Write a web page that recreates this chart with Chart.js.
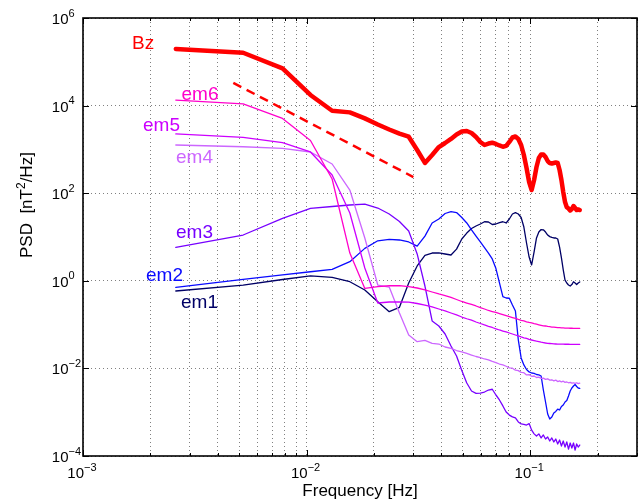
<!DOCTYPE html>
<html>
<head>
<meta charset="utf-8">
<script src="https://cdn.jsdelivr.net/npm/chart.js@4/dist/chart.umd.min.js"></script>
<style>
  html, body { margin: 0; padding: 0; background: #fff; }
  canvas { display: block; }
</style>
</head>
<body>
<canvas id="psd" width="640" height="500"></canvas>
<script>
// frequency bins [Hz]
const freqs = [
  0.0026, 0.0052, 0.0078, 0.0104, 0.0130, 0.0156, 0.0182, 0.0208, 0.0234, 0.0260,
  0.0286, 0.0312, 0.0338, 0.0364, 0.0390, 0.0416, 0.0442, 0.0468, 0.0494, 0.0520,
  0.0546, 0.0572, 0.0598, 0.0624, 0.0650, 0.0676, 0.0702, 0.0728, 0.0754, 0.0780,
  0.0806, 0.0832, 0.0858, 0.0884, 0.0910, 0.0936, 0.0962, 0.0988, 0.1014, 0.1040,
  0.1066, 0.1092, 0.1118, 0.1144, 0.1170, 0.1196, 0.1222, 0.1248, 0.1274, 0.1300,
  0.1326, 0.1352, 0.1378, 0.1404, 0.1430, 0.1456, 0.1482, 0.1508, 0.1534, 0.1560,
  0.1586, 0.1612, 0.1638, 0.1664
];

// PSD [nT^2/Hz]
const bz = [
  1.96e5, 1.61e5, 7.1e4, 1.75e4, 7650, 7000, 5100, 3700, 2850, 2300,
  1950, 970, 490, 745, 1130, 1400, 1730, 2190, 2560, 2630,
  2370, 1920, 1480, 1260, 1360, 1420, 1330, 1230, 1150, 1200,
  1480, 1870, 1970, 1730, 1260, 745, 376, 180, 118, 200,
  396, 637, 766, 766, 670, 543, 489, 476, 489, 502,
  489, 339, 200, 106, 63, 48, 44.8, 40.3, 43.5, 51,
  45.9, 41.3, 42.5, 41.3
];
const em6 = [
  1.34e4, 1.09e4, 5100, 1600, 211, 4.3, 0.67, 0.74, 0.77, 0.78,
  0.74, 0.685, 0.62, 0.555, 0.50, 0.46, 0.416, 0.374, 0.337, 0.311,
  0.288, 0.266, 0.245, 0.227, 0.21, 0.199, 0.189, 0.179, 0.17, 0.161,
  0.153, 0.145, 0.138, 0.131, 0.125, 0.121, 0.116, 0.112, 0.109, 0.105,
  0.102, 0.099, 0.0964, 0.094, 0.093, 0.091, 0.0896, 0.088, 0.0877, 0.0866,
  0.0857, 0.085, 0.0845, 0.084, 0.0835, 0.083, 0.0828, 0.0826, 0.0825, 0.0824,
  0.0823, 0.0822, 0.0822, 0.0821
];
const em5 = [
  2250, 1890, 1420, 873, 261, 35.3, 1.96, 0.311, 0.328, 0.328,
  0.325, 0.303, 0.28, 0.255, 0.227, 0.205, 0.184, 0.166, 0.149, 0.136,
  0.126, 0.1147, 0.106, 0.098, 0.0914, 0.0859, 0.0802, 0.0753, 0.0714, 0.0678,
  0.0643, 0.061, 0.0579, 0.055, 0.0522, 0.05, 0.0482, 0.0461, 0.0445, 0.0431,
  0.0418, 0.0408, 0.0396, 0.0388, 0.038, 0.0374, 0.037, 0.0366, 0.0362, 0.0361,
  0.0359, 0.0358, 0.0357, 0.0357, 0.0356, 0.0356, 0.0356, 0.0355, 0.0355, 0.0355,
  0.0355, 0.0355, 0.0355, 0.0355
];
const em4 = [
  1260, 1150, 1060, 873, 464, 118, 9.5, 0.80, 0.72, 0.184,
  0.058, 0.0407, 0.0434, 0.0374, 0.036, 0.0308, 0.0288, 0.0256, 0.0237, 0.0219,
  0.0202, 0.0187, 0.0177, 0.0164, 0.0156, 0.0144, 0.0136, 0.0126, 0.012, 0.0112,
  0.0103, 0.0101, 0.0091, 0.0089, 0.0081, 0.0080, 0.0071, 0.0072, 0.0066, 0.0067,
  0.0062, 0.0063, 0.0059, 0.0060, 0.0056, 0.0058, 0.0054, 0.0055, 0.0052, 0.0054,
  0.0050, 0.0052, 0.0049, 0.0051, 0.0048, 0.0049, 0.0047, 0.0048, 0.0046, 0.0047,
  0.00455, 0.0047, 0.0045, 0.00462
];
const em3 = [
  5.8, 11.1, 26.7, 44.8, 49.7, 53.8, 56.6, 45.9, 33.5, 22.6,
  13.7, 4.1, 0.76, 0.121, 0.093, 0.061, 0.0325, 0.0192, 0.00895, 0.00464,
  0.00305, 0.0027, 0.00274, 0.00289, 0.00321, 0.00334, 0.00247, 0.0019, 0.00139, 0.00101,
  0.00086, 0.00078, 0.00074, 0.0006, 0.00054, 0.00053, 0.00051, 0.00055, 0.00039, 0.00032,
  0.000286, 0.00032, 0.000258, 0.000302, 0.000244, 0.000272, 0.00022, 0.000258, 0.000209, 0.000244,
  0.000188, 0.000232, 0.000169, 0.00022, 0.00016, 0.000209, 0.000144, 0.000198, 0.000152, 0.000198,
  0.000137, 0.000188, 0.00016, 0.000178
];
const em2 = [
  0.71, 1.08, 1.36, 1.61, 1.83, 2.73, 5.5, 8.2, 8.8, 8.55,
  7.7, 6.2, 10.5, 20.9, 25.8, 34.4, 37.8, 36.2, 27.9, 20.9,
  14.5, 10.5, 7.7, 5.75, 4.3, 3.15, 1.9, 0.9, 0.434, 0.405,
  0.40, 0.28, 0.205, 0.0445, 0.0173, 0.012, 0.00944, 0.0083, 0.00785, 0.0077,
  0.00726, 0.0071, 0.0067, 0.00321, 0.00171, 0.00091, 0.0007, 0.00078, 0.00096, 0.00104,
  0.00118, 0.00112, 0.00135, 0.00146, 0.00171, 0.00185, 0.00234, 0.00305, 0.00357, 0.00396,
  0.00429, 0.00386, 0.00357, 0.00351
];
const em1 = [
  0.585, 0.80, 1.07, 1.29, 1.20, 0.953, 0.617, 0.333, 0.197, 0.248,
  0.89, 2.18, 3.8, 4.31, 4.35, 4.09, 3.88, 5.3, 9.0, 12.3,
  15.6, 17.8, 19.8, 22.3, 22, 19.3, 19.8, 21.4, 22.3, 20.9,
  25.8, 33.5, 35.9, 33.5, 27.9, 16.9, 7.3, 3.49, 2.3, 4.55,
  9.5, 13.0, 14.8, 14.6, 13, 11.1, 10.2, 9.8, 9.5, 9.5,
  9.0, 5.9, 3.32, 1.77, 1.04, 0.89, 0.80, 0.76, 0.82, 0.95,
  0.89, 0.82, 0.89, 0.94
];

// f^-8/3 reference slope
const refFreq = [0.0047, 0.030];
const refPsd = [3.3e4, 234];

const seriesNames = ['Bz', 'em6', 'em5', 'em4', 'em3', 'em2', 'em1'];
const seriesValues = [bz, em6, em5, em4, em3, em2, em1];
const seriesColors = ['#ff0000', '#ff00cc', '#cc00ff', '#cc66ff', '#7700ff', '#0a0aff', '#000066'];

// ticks / grid
const xGridTicks = [
  0.001, 0.002, 0.003, 0.004, 0.005, 0.006, 0.007, 0.008, 0.009,
  0.01, 0.02, 0.03, 0.04, 0.05, 0.06, 0.07, 0.08, 0.09,
  0.1, 0.2, 0.3
];
const xLabelTicks = [0.001, 0.01, 0.1];
const yTicks = [1e-4, 1e-2, 1, 1e2, 1e4, 1e6];

const FONT = "'Liberation Sans', Arial, Helvetica, sans-serif";

// where the curve names sit (pixels, left / baseline)
const namePos = {
  Bz: [132, 48.5], em6: [181.5, 99.5], em5: [143, 130.5], em4: [176, 163],
  em3: [176, 238], em2: [146, 281], em1: [181, 308]
};

function expText(v) {
  const e = Math.round(Math.log10(v));
  return e < 0 ? '\u2212' + (-e) : String(e);
}

const decor = {
  id: 'decor',
  afterDraw(chart) {
    const { ctx, chartArea: a, scales: { x, y } } = chart;
    ctx.save();

    // inner tick marks
    ctx.strokeStyle = '#000';
    ctx.lineWidth = 1;
    ctx.beginPath();
    xGridTicks.forEach(v => {
      const px = Math.round(x.getPixelForValue(v)) + 0.5;
      const len = xLabelTicks.includes(v) ? 6 : 3;
      ctx.moveTo(px, a.bottom); ctx.lineTo(px, a.bottom - len);
      ctx.moveTo(px, a.top); ctx.lineTo(px, a.top + len);
    });
    yTicks.forEach(v => {
      const py = Math.round(y.getPixelForValue(v)) + 0.5;
      ctx.moveTo(a.left, py); ctx.lineTo(a.left + 6, py);
      ctx.moveTo(a.right, py); ctx.lineTo(a.right - 6, py);
    });
    ctx.stroke();

    // box
    ctx.lineWidth = 1.6;
    ctx.strokeRect(a.left, a.top, a.right - a.left, a.bottom - a.top);

    // tick labels 10^n
    ctx.fillStyle = '#000';
    yTicks.forEach(v => {
      const py = y.getPixelForValue(v);
      ctx.font = '15px ' + FONT;
      ctx.textAlign = 'right';
      ctx.fillText('10', 68.5, py + 6);
      ctx.font = '11px ' + FONT;
      ctx.textAlign = 'left';
      ctx.fillText(expText(v), 68.5, py - 1.5);
    });
    xLabelTicks.forEach(v => {
      const px = x.getPixelForValue(v) + 1;
      ctx.font = '15px ' + FONT;
      ctx.textAlign = 'right';
      ctx.fillText('10', px, 478);
      ctx.font = '11px ' + FONT;
      ctx.textAlign = 'left';
      ctx.fillText(expText(v), px, 470.5);
    });

    // axis titles
    ctx.font = '17px ' + FONT;
    ctx.textAlign = 'center';
    ctx.fillText('Frequency [Hz]', (a.left + a.right) / 2, 496);

    ctx.save();
    ctx.translate(32, 258);
    ctx.rotate(-Math.PI / 2);
    ctx.textAlign = 'left';
    ctx.font = '17px ' + FONT;
    const p1 = 'PSD  [nT';
    ctx.fillText(p1, 0, 0);
    let w = ctx.measureText(p1).width;
    ctx.font = '12px ' + FONT;
    ctx.fillText('2', w, -7);
    w += ctx.measureText('2').width;
    ctx.font = '17px ' + FONT;
    ctx.fillText('/Hz]', w, 0);
    ctx.restore();

    // curve names
    ctx.font = '19px ' + FONT;
    ctx.textAlign = 'left';
    seriesNames.forEach((name, i) => {
      ctx.fillStyle = seriesColors[i];
      ctx.fillText(name, namePos[name][0], namePos[name][1]);
    });

    ctx.restore();
  }
};

const datasets = seriesNames.map((name, i) => ({
  label: name,
  data: freqs.map((f, k) => ({ x: f, y: seriesValues[i][k] })),
  borderColor: seriesColors[i],
  borderWidth: name === 'Bz' ? 4.5 : 1.3,
  borderJoinStyle: 'round',
  borderCapStyle: 'round',
  pointRadius: 0,
  tension: 0,
  fill: false
}));
datasets.push({
  label: 'slope',
  data: refFreq.map((f, k) => ({ x: f, y: refPsd[k] })),
  borderColor: '#ff0000',
  borderWidth: 2.5,
  borderDash: [9, 6],
  pointRadius: 0,
  fill: false
});

const gridStyle = { color: '#808080', lineWidth: 1, drawTicks: false };

new Chart(document.getElementById('psd').getContext('2d'), {
  type: 'line',
  data: { datasets },
  options: {
    responsive: false,
    animation: false,
    devicePixelRatio: 1,
    layout: { padding: { left: 0, right: 3, top: 18, bottom: 0 } },
    plugins: { legend: { display: false }, tooltip: { enabled: false } },
    scales: {
      x: {
        type: 'logarithmic',
        min: 0.001,
        max: 0.3,
        afterBuildTicks: s => { s.ticks = xGridTicks.map(v => ({ value: v })); },
        afterFit: s => { s.height = 44; },
        ticks: { display: false },
        grid: gridStyle,
        border: { display: false, dash: [1, 3] }
      },
      y: {
        type: 'logarithmic',
        min: 1e-4,
        max: 1e6,
        afterBuildTicks: s => { s.ticks = yTicks.map(v => ({ value: v })); },
        afterFit: s => { s.width = 83; },
        ticks: { display: false },
        grid: gridStyle,
        border: { display: false, dash: [1, 3] }
      }
    }
  },
  plugins: [decor]
});
</script>
</body>
</html>
